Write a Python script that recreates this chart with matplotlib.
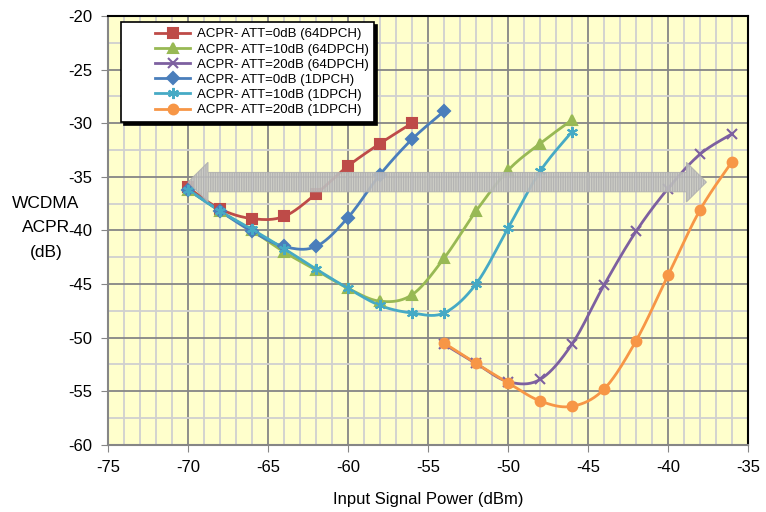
import numpy as np
import matplotlib
matplotlib.use('Agg')
import matplotlib.pyplot as plt
from matplotlib.patches import Polygon
from matplotlib.ticker import MultipleLocator
from matplotlib.legend_handler import HandlerLine2D

plt.rcParams['font.family'] = ['Liberation Sans', 'DejaVu Sans']
plt.rcParams['axes.unicode_minus'] = False

# data
x_a = [-70, -68, -66, -64, -62, -60, -58, -56]
att0_64 = [-36.0, -38.0, -38.9, -38.7, -36.6, -34.0, -31.9, -30.0]

x_b = [-70, -68, -66, -64, -62, -60, -58, -56, -54, -52, -50, -48, -46]
att10_64 = [-36.2, -38.2, -40.0, -42.0, -43.7, -45.4, -46.6, -46.0, -42.6, -38.2, -34.4, -31.9, -29.7]

x_c = [-54, -52, -50, -48, -46, -44, -42, -40, -38, -36]
att20_64 = [-50.6, -52.4, -54.1, -53.9, -50.6, -45.1, -40.1, -36.1, -32.9, -31.0]

x_d = [-70, -68, -66, -64, -62, -60, -58, -56, -54]
att0_1 = [-36.2, -38.2, -40.1, -41.5, -41.5, -38.8, -34.8, -31.5, -28.9]

att10_1 = [-36.2, -38.2, -39.9, -41.7, -43.6, -45.4, -47.0, -47.7, -47.7, -45.0, -39.8, -34.5, -30.8]

att20_1 = [-50.5, -52.4, -54.2, -55.9, -56.4, -54.8, -50.3, -44.2, -38.1, -33.6]

labels = ['ACPR- ATT=0dB (64DPCH)', 'ACPR- ATT=10dB (64DPCH)', 'ACPR- ATT=20dB (64DPCH)',
          'ACPR- ATT=0dB (1DPCH)', 'ACPR- ATT=10dB (1DPCH)', 'ACPR- ATT=20dB (1DPCH)']
colors = ['#BE4B48', '#98B954', '#7D60A0', '#4A7EBB', '#46AAC5', '#F79646']
markers = ['s', '^', 'x', 'D', (6, 2, 0), 'o']
msizes = [7, 7, 7, 6, 8, 7]
ylabel_lines = ['WCDMA', 'ACPR', '(dB)']


def smooth(x, y, n=20):
    # bezier smoothing like Excel's "smoothed line"
    x = np.asarray(x, float)
    y = np.asarray(y, float)
    px = np.concatenate([[x[0]], x, [x[-1]]])
    py = np.concatenate([[y[0]], y, [y[-1]]])
    xs, ys = [], []
    t = np.linspace(0, 1, n, endpoint=False)
    for i in range(1, len(px) - 2):
        c1x = px[i] + (px[i + 1] - px[i - 1]) / 6
        c1y = py[i] + (py[i + 1] - py[i - 1]) / 6
        c2x = px[i + 1] - (px[i + 2] - px[i]) / 6
        c2y = py[i + 1] - (py[i + 2] - py[i]) / 6
        b0, b1, b2, b3 = (1 - t) ** 3, 3 * t * (1 - t) ** 2, 3 * t ** 2 * (1 - t), t ** 3
        xs.append(b0 * px[i] + b1 * c1x + b2 * c2x + b3 * px[i + 1])
        ys.append(b0 * py[i] + b1 * c1y + b2 * c2y + b3 * py[i + 1])
    xs.append([x[-1]])
    ys.append([y[-1]])
    return np.concatenate(xs), np.concatenate(ys)


class ShiftedLine(HandlerLine2D):
    # legend sample drawn in the right part of the handle box (Excel style indent)
    def create_artists(self, legend, orig_handle, xdescent, ydescent, width, height, fontsize, trans):
        shift = width * 0.45
        return super().create_artists(legend, orig_handle, xdescent - shift, ydescent,
                                      width - shift, height, fontsize, trans)


fig = plt.figure(figsize=(7.66, 5.12), dpi=100)
ax = fig.add_axes([0.141, 0.131, 0.8355, 0.838])
ax.set_facecolor('#FFFFCC')

series = [(x_a, att0_64), (x_b, att10_64), (x_c, att20_64),
          (x_d, att0_1), (x_b, att10_1), (x_c, att20_1)]
handles = []
for (xs, ys), lab, col, mk, ms in zip(series, labels, colors, markers, msizes):
    sx, sy = smooth(xs, ys)
    ax.plot(sx, sy, color=col, lw=2, zorder=3)
    ax.plot(xs, ys, ls='none', marker=mk, ms=ms, color=col, mec=col, mew=1.5, zorder=4)
    h, = ax.plot([], [], color=col, lw=2, marker=mk, ms=ms, mew=1.5, label=lab)
    handles.append(h)

# grey double arrow
ay, sh, hh, hl = -35.5, 0.9, 1.85, 1.25
x0, x1 = -70.0, -37.6
arrow = Polygon([[x0, ay], [x0 + hl, ay + hh], [x0 + hl, ay + sh], [x1 - hl, ay + sh],
                 [x1 - hl, ay + hh], [x1, ay], [x1 - hl, ay - hh], [x1 - hl, ay - sh],
                 [x0 + hl, ay - sh], [x0 + hl, ay - hh]], closed=True,
                facecolor='#C8C8C8', edgecolor='#B0B0B0', alpha=0.85, lw=0.8, zorder=5,
                hatch='|||||||')
ax.add_patch(arrow)

ax.set_xlim(-75, -35)
ax.set_ylim(-60, -20)
ax.xaxis.set_major_locator(MultipleLocator(5))
ax.yaxis.set_major_locator(MultipleLocator(5))
ax.xaxis.set_minor_locator(MultipleLocator(1))
ax.yaxis.set_minor_locator(MultipleLocator(2.5))
ax.grid(which='major', color='#868686', lw=1.3, zorder=1)
ax.grid(which='minor', color='#D0D0D0', lw=1.3, zorder=0)
ax.set_axisbelow(True)
ax.tick_params(which='major', direction='out', length=5, color='#868686', labelsize=12, pad=6)
ax.tick_params(which='minor', length=0)
for s in ['left', 'bottom']:
    ax.spines[s].set_color('#868686')
    ax.spines[s].set_linewidth(1.5)
for s in ['top', 'right']:
    ax.spines[s].set_color('black')
    ax.spines[s].set_linewidth(1.5)

ax.set_xlabel('Input Signal Power (dBm)', fontsize=12, labelpad=12)
for i, line in enumerate(ylabel_lines):
    fig.text(46 / 766, 1 - (203 + 25 * i) / 512, line, ha='center', va='center', fontsize=12.5)

leg = ax.legend(handles=handles, loc='upper left', bbox_to_anchor=(0.02, 0.985), fontsize=9.5,
                frameon=True, fancybox=False, handlelength=4.8, handletextpad=0.5,
                labelspacing=0.22, borderpad=0.45, borderaxespad=0,
                handler_map={h: ShiftedLine() for h in handles},
                shadow={'color': 'black', 'alpha': 1, 'ox': 2, 'oy': -2})
leg.get_frame().set_edgecolor('black')
leg.get_frame().set_linewidth(1.2)
leg.get_frame().set_facecolor('white')
leg.set_zorder(6)

fig.savefig('out.png', dpi=100)
